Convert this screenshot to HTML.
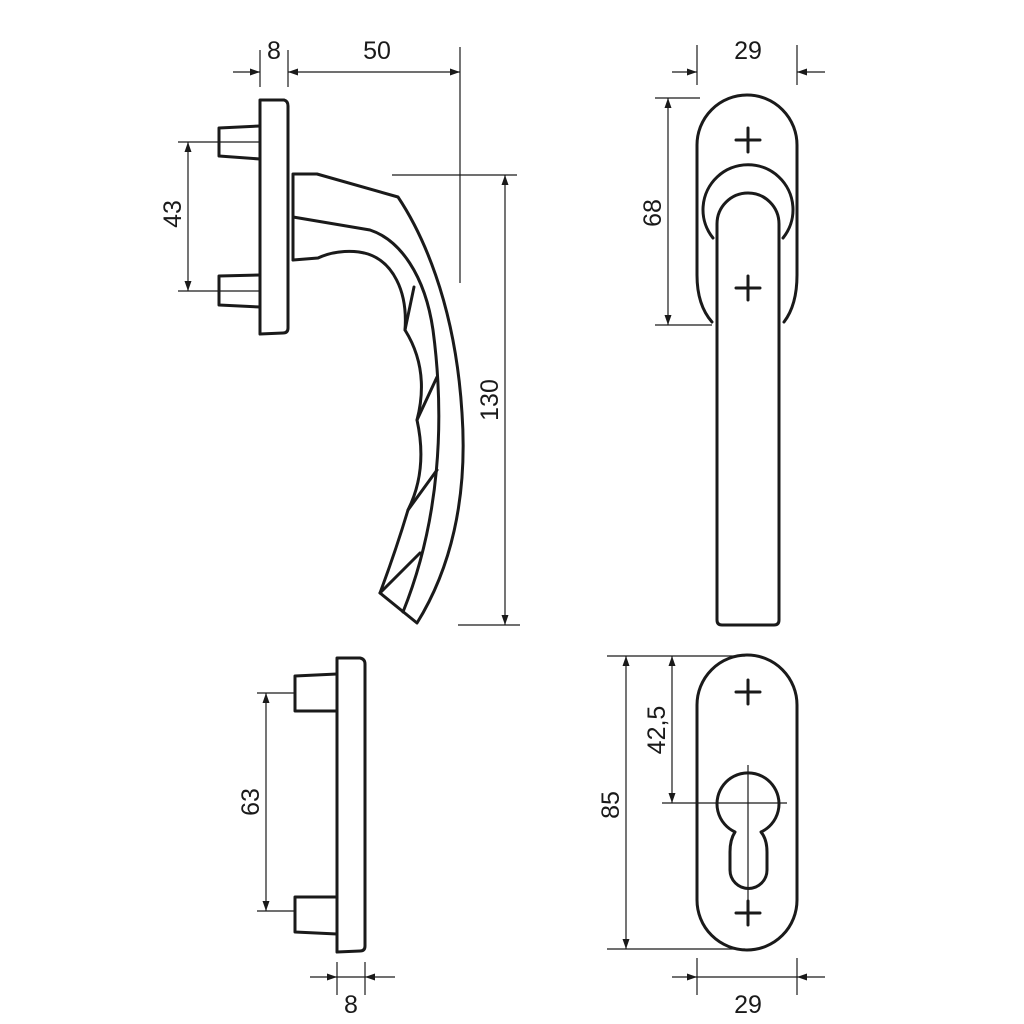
<!DOCTYPE html>
<html><head><meta charset="utf-8"><style>html,body{margin:0;padding:0;background:#fff}svg{display:block}</style></head>
<body>
<svg width="1024" height="1024" viewBox="0 0 1024 1024" xmlns="http://www.w3.org/2000/svg">
<defs>
<marker id="a" viewBox="0 0 10 10" refX="10" refY="5" markerWidth="10" markerHeight="10" markerUnits="userSpaceOnUse" orient="auto-start-reverse"><path d="M0,1.5 L10,5 L0,8.5 Z" fill="#1a1a1a"/></marker>
</defs>
<g fill="none" stroke="#1a1a1a" stroke-width="1.2">
<line x1="260" y1="50" x2="260" y2="87"/><line x1="288" y1="50" x2="288" y2="87"/>
<line x1="233" y1="72" x2="260" y2="72" marker-end="url(#a)"/>
<line x1="288" y1="72" x2="460" y2="72" marker-start="url(#a)" marker-end="url(#a)"/>
<line x1="460" y1="47" x2="460" y2="283"/>
<line x1="178" y1="142" x2="260" y2="142"/><line x1="178" y1="291" x2="260" y2="291"/>
<line x1="188" y1="142" x2="188" y2="291" marker-start="url(#a)" marker-end="url(#a)"/>
<line x1="392" y1="175" x2="517" y2="175"/><line x1="458" y1="625" x2="520" y2="625"/>
<line x1="505" y1="175" x2="505" y2="625" marker-start="url(#a)" marker-end="url(#a)"/>
<line x1="697" y1="45" x2="697" y2="85"/><line x1="797" y1="45" x2="797" y2="85"/>
<line x1="672" y1="72" x2="697" y2="72" marker-end="url(#a)"/>
<line x1="825" y1="72" x2="797" y2="72" marker-end="url(#a)"/>
<line x1="655" y1="98" x2="700" y2="98"/><line x1="655" y1="325" x2="712" y2="325"/>
<line x1="668" y1="98" x2="668" y2="325" marker-start="url(#a)" marker-end="url(#a)"/>
<line x1="257" y1="693" x2="294" y2="693"/><line x1="257" y1="911" x2="294" y2="911"/>
<line x1="266" y1="693" x2="266" y2="911" marker-start="url(#a)" marker-end="url(#a)"/>
<line x1="337" y1="962" x2="337" y2="995"/><line x1="365" y1="962" x2="365" y2="995"/>
<line x1="310" y1="977" x2="337" y2="977" marker-end="url(#a)"/>
<line x1="395" y1="977" x2="365" y2="977" marker-end="url(#a)"/>
<line x1="337" y1="977" x2="365" y2="977"/>
<line x1="607" y1="656" x2="745" y2="656"/><line x1="607" y1="949" x2="745" y2="949"/>
<line x1="626" y1="656" x2="626" y2="949" marker-start="url(#a)" marker-end="url(#a)"/>
<line x1="672" y1="656" x2="672" y2="803" marker-start="url(#a)" marker-end="url(#a)"/>
<line x1="662" y1="803" x2="787" y2="803"/>
<line x1="748" y1="765" x2="748" y2="905"/>
<line x1="697" y1="958" x2="697" y2="995"/><line x1="797" y1="958" x2="797" y2="995"/>
<line x1="672" y1="977" x2="697" y2="977" marker-end="url(#a)"/>
<line x1="825" y1="977" x2="797" y2="977" marker-end="url(#a)"/>
<line x1="697" y1="977" x2="797" y2="977"/>
</g>
<g fill="none" stroke="#1a1a1a" stroke-width="3" stroke-linejoin="round" stroke-linecap="round">
<path d="M260,100 L284,100 Q288,101 288,106 L288,328 Q288,333 283,333 L260,334 Z"/>
<path d="M260,126 L219,128 L219,156 L260,159"/>
<path d="M260,275 L219,276 L219,305 L260,307"/>
<path d="M288,184 L288,250"/>
<path d="M293,260 L293,174 L317,174 L398,197 C420,230 455,300 462,413 C468,500 450,570 417,623 L380,593"/>
<path d="M293,217 L370,230 C400,240 425,275 433,330 C445,420 440,520 403,612"/>
<path d="M293,260 L318,258 C335,250 355,250 368,254 C392,262 408,290 405,330 Q430,370 417,420 Q428,470 408,510 Q396,550 380,593"/>
<path d="M405,330 L414,287 M417,420 L437,377 M408,510 L437,470 M380,593 L420,553"/>
<path d="M712,322 Q697,305 697,275 L697,145 A50,50 0 0 1 797,145 L797,275 Q797,305 784,322"/>
<path d="M713,238 A45,45 0 1 1 783,238"/>
<path d="M717,620 L717,224 A31,31 0 0 1 779,224 L779,620 Q779,625 774,625 L722,625 Q717,625 717,620 Z"/>
<path d="M736,140 L760,140 M748,128 L748,152"/>
<path d="M736,288 L760,288 M748,276 L748,300"/>
<path d="M337,658 L360,658 Q365,659 365,664 L365,946 Q365,951 360,951 L337,952 Z"/>
<path d="M337,674 L295,676 L295,711 L337,711"/>
<path d="M337,897 L295,897 L295,932 L337,934"/>
<rect x="697" y="655" width="100" height="295" rx="50" ry="50"/>
<path d="M735,832 A31,31 0 1 1 761,832 C766,838 767,845 767,852 L767,870 A18.5,18.5 0 0 1 730,870 L730,852 C730,845 731,838 735,832 Z"/>
<path d="M736,692 L760,692 M748,680 L748,704"/>
<path d="M736,913 L760,913 M748,901 L748,925"/>
</g>
<g font-family="Liberation Sans, sans-serif" font-size="25" fill="#1a1a1a" text-anchor="middle">
<text x="274" y="59">8</text>
<text x="377" y="59">50</text>
<text x="748" y="59">29</text>
<text x="351" y="1013">8</text>
<text x="748" y="1013">29</text>
<text transform="translate(181,214) rotate(-90)">43</text>
<text transform="translate(498,400) rotate(-90)">130</text>
<text transform="translate(661,213) rotate(-90)">68</text>
<text transform="translate(259,802) rotate(-90)">63</text>
<text transform="translate(619,805) rotate(-90)">85</text>
<text transform="translate(665,730) rotate(-90)">42,5</text>
</g>
</svg>
</body></html>
